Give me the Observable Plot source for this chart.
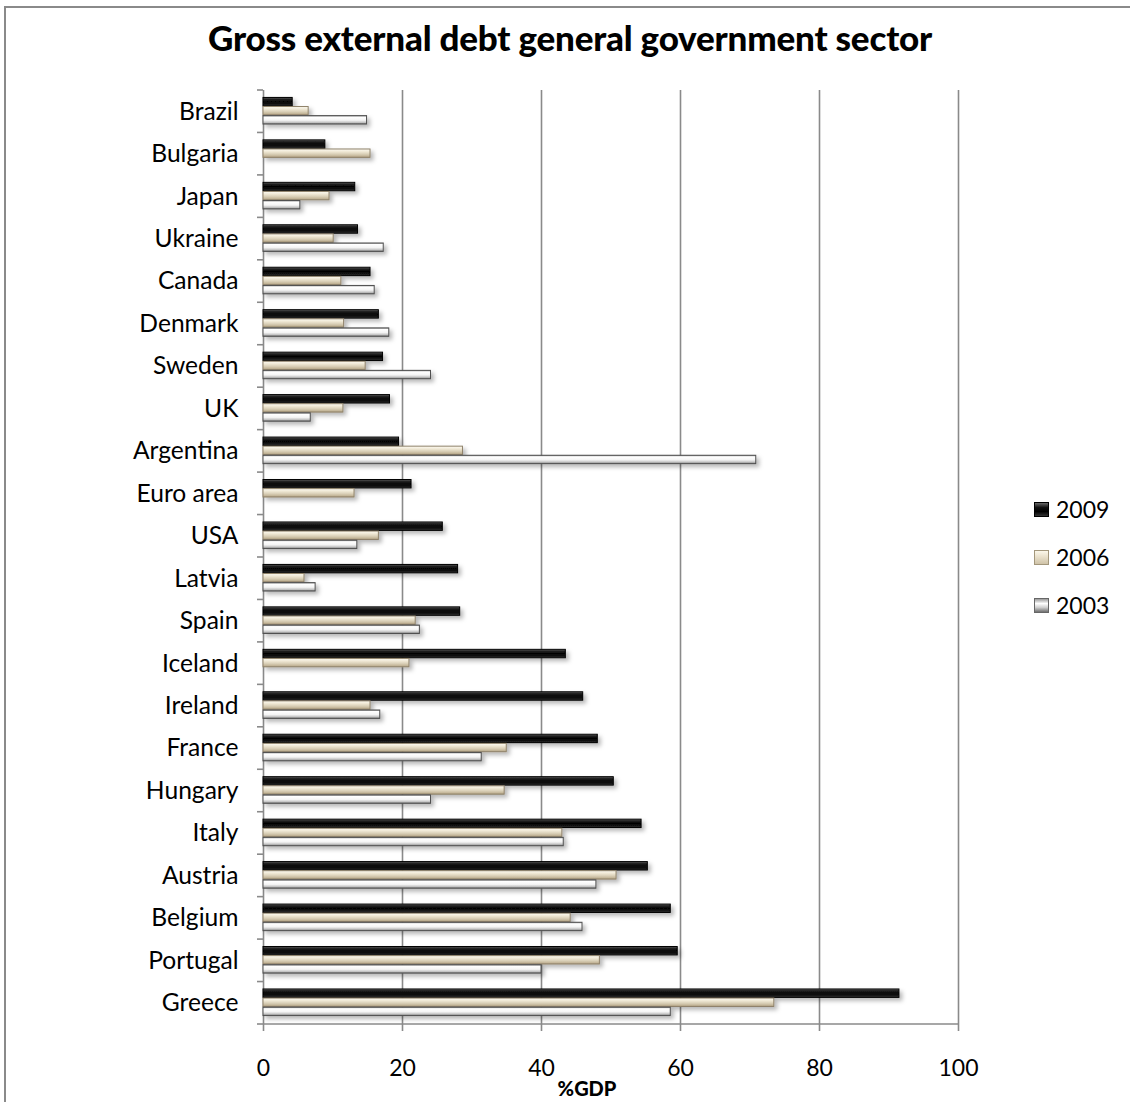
<!DOCTYPE html>
<html>
<head>
<meta charset="utf-8">
<script src="https://cdn.jsdelivr.net/npm/d3@7"></script>
<script src="https://cdn.jsdelivr.net/npm/@observablehq/plot@0.6"></script>
<style>
  body { margin: 0; background: #fff; font-family: Lato, "Noto Sans", sans-serif; }
  #wrap { position: relative; width: 1130px; height: 1102px; overflow: hidden; background: #fff; }
  #frame { position: absolute; left: 4px; top: 6px; width: 1300px; height: 1300px;
           border-left: 2px solid #8a8a8a; border-top: 2px solid #8a8a8a; }
  #title { position: absolute; left: 0; width: 1140px; top: 16px; text-align: center;
           font: 900 35px Lato, sans-serif; color: #000; letter-spacing: -0.2px; }
  #chart { position: absolute; left: 0; top: 0; }
  #xlabel { position: absolute; left: 0; width: 1174px; top: 1076px; text-align: center;
            font: 900 20px Lato, sans-serif; color: #000; }
  #legend { position: absolute; left: 1034px; top: 485px; }
  .item { display: flex; align-items: center; height: 48px; }
  .sw { width: 15px; height: 15px; margin-right: 7px; box-sizing: border-box; }
  .lab { font: 23px Lato, sans-serif; color: #000; }
</style>
</head>
<body>
<div id="wrap">
  <div id="frame"></div>
  <div id="title">Gross external debt general government sector</div>
  <div id="chart"></div>
  <div id="xlabel">%GDP</div>
  <div id="legend"></div>
</div>
<script>
// ---- data ----
const countries = ["Brazil", "Bulgaria", "Japan", "Ukraine", "Canada", "Denmark", "Sweden", "UK",
  "Argentina", "Euro area", "USA", "Latvia", "Spain", "Iceland", "Ireland", "France", "Hungary",
  "Italy", "Austria", "Belgium", "Portugal", "Greece"];
const v2009 = [4.2, 8.9, 13.2, 13.6, 15.4, 16.6, 17.2, 18.2, 19.5, 21.3, 25.8, 28.0, 28.3, 43.5, 46.0, 48.1, 50.4, 54.4, 55.3, 58.6, 59.6, 91.5];
const v2006 = [6.5, 15.4, 9.5, 10.1, 11.2, 11.6, 14.7, 11.5, 28.7, 13.1, 16.6, 5.9, 21.9, 21.0, 15.4, 35.0, 34.7, 43.0, 50.8, 44.2, 48.4, 73.5];
const v2003 = [14.9, null, 5.3, 17.3, 16.0, 18.1, 24.1, 6.8, 70.9, null, 13.5, 7.5, 22.5, null, 16.8, 31.4, 24.1, 43.2, 47.9, 45.9, 40.0, 58.6];
const seriesNames = ["2009", "2006", "2003"];
const xTicks = [0, 20, 40, 60, 80, 100];
const xLabel = "%GDP";

const seriesValues = [v2009, v2006, v2003];
const rows = seriesNames.flatMap((s, i) =>
  countries.map((c, j) => ({country: c, series: s, value: seriesValues[i][j]})))
  .filter(d => d.value != null);

// ---- layout ----
const W = 1130, H = 1102, mL = 263, mR = 172, mT = 90, mB = 78;
const band = (H - mT - mB) / countries.length;
const barH = 9.1;
function insets(i) {
  const top = band / 2 - 1.5 * barH + i * barH - 0.5;
  return {insetTop: top + 0.35, insetBottom: band - top - barH + 0.35};
}
const strokes = ["#000000", "#8f826a", "#4f4f4f"];

function edgeTicks(index, scales, values, dimensions) {
  const g = d3.create("svg:g").attr("stroke", "#8a8a8a").attr("stroke-width", 1.6);
  const y = scales.y;
  const bw = y.bandwidth ? y.bandwidth() : band;
  const x0 = scales.x(0);
  const ys = countries.map(c => y(c));
  ys.push(ys[ys.length - 1] + bw);
  ys.forEach(v => g.append("line").attr("x1", x0 - 6).attr("x2", x0).attr("y1", v).attr("y2", v));
  const yb = ys[ys.length - 1];
  g.append("line").attr("x1", x0).attr("x2", scales.x(xTicks[xTicks.length - 1])).attr("y1", yb).attr("y2", yb);
  return g.node();
}

const chart = Plot.plot({
  width: W, height: H,
  marginLeft: mL, marginRight: mR, marginTop: mT, marginBottom: mB,
  style: {fontFamily: "Lato, sans-serif", background: "transparent", overflow: "visible"},
  x: {domain: [0, 100], axis: null},
  y: {domain: countries, padding: 0, round: false, axis: null},
  marks: [
    Plot.ruleX(xTicks.slice(1), {stroke: "#8a8a8a", strokeWidth: 1.6}),
    Plot.ruleX([0], {stroke: "#8a8a8a", strokeWidth: 1.6}),
    ...seriesNames.map((s, i) => Plot.barX(rows.filter(d => d.series === s), {
      x: "value", y: "country", fill: `url(#g${s})`, stroke: strokes[i], strokeWidth: 1, ...insets(i)
    })),
    edgeTicks,
    Plot.axisX(xTicks, {anchor: "bottom", tickSize: 7, tickPadding: 28, fontSize: 23, stroke: "#8a8a8a", strokeWidth: 1.6, label: null, tickFormat: d => String(d)}),
    Plot.axisY({anchor: "left", tickSize: 0, tickPadding: 25, fontSize: 24.6, label: null})
  ]
});

const svg = d3.select(chart);
svg.selectAll('g[aria-label="x-axis tick label"] text, g[aria-label="x-axis tick label"]').attr("fill", "#000").attr("stroke", "none");
const defs = svg.insert("defs", ":first-child");
function grad(id, stops) {
  const g = defs.append("linearGradient").attr("id", id).attr("x1", 0).attr("y1", 0).attr("x2", 0).attr("y2", 1);
  stops.forEach(([o, c]) => g.append("stop").attr("offset", o).attr("stop-color", c));
}
grad("g2009", [[0, "#707070"], [0.18, "#262626"], [0.5, "#050505"], [0.82, "#151515"], [1, "#404040"]]);
grad("g2006", [[0, "#fdfbf4"], [0.3, "#f0e9d6"], [0.6, "#dad0b8"], [0.85, "#c3b598"], [1, "#a6977a"]]);
grad("g2003", [[0, "#8a8a8a"], [0.18, "#ffffff"], [0.55, "#f4f4f4"], [0.82, "#c2c2c2"], [1, "#707070"]]);
const f = defs.append("filter").attr("id", "shadow").attr("x", "-5%").attr("y", "-50%").attr("width", "115%").attr("height", "250%");
f.append("feDropShadow").attr("dx", 3).attr("dy", 3).attr("stdDeviation", 2).attr("flood-color", "#000").attr("flood-opacity", 0.28);
svg.selectAll('g[aria-label="bar"]').attr("filter", "url(#shadow)");

document.getElementById("chart").appendChild(chart);

// ---- legend ----
const swatchCss = {
  "2009": "background: linear-gradient(#6a6a6a, #111 35%, #000 65%, #333); border: 1px solid #000;",
  "2006": "background: linear-gradient(#fbf7ea, #e9e0cb 45%, #cfc3a8); border: 1px solid #a3977c;",
  "2003": "background: linear-gradient(#9a9a9a, #ffffff 35%, #cfcfcf 65%, #6f6f6f); border: 1px solid #666;"
};
const legend = document.getElementById("legend");
seriesNames.forEach(s => {
  const it = document.createElement("div");
  it.className = "item";
  it.innerHTML = `<div class="sw" style="${swatchCss[s]}"></div><div class="lab">${s}</div>`;
  legend.appendChild(it);
});
document.getElementById("xlabel").textContent = xLabel;
</script>
</body>
</html>
